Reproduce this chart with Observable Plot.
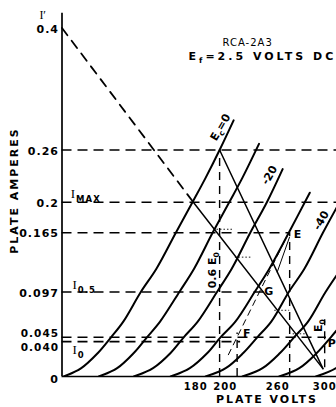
<!DOCTYPE html>
<html><head><meta charset="utf-8">
<script src="https://cdn.jsdelivr.net/npm/d3@7"></script>
<script src="https://cdn.jsdelivr.net/npm/@observablehq/plot@0.6"></script>
<style>
html,body{margin:0;padding:0;background:#fff;}
svg{display:block;}
.spaced text{letter-spacing:2px;}
.spaced1 text{letter-spacing:1px;}
.spacedT text{letter-spacing:3px;}
</style></head><body><div id="chart"></div>
<script>
// Plate characteristic curves [plate volts, plate amperes], grid bias in volts
const curveEc0  = [[2,0],[22,0.0096],[41,0.027],[56,0.045],[70,0.063],[90,0.097],[108,0.124],[130,0.165],[149,0.2],[164,0.228],[180,0.26],[196,0.294]];
const curveEc10 = [[42,0],[63,0.0096],[82,0.027],[97,0.045],[112,0.063],[134,0.097],[151,0.124],[172,0.165],[191,0.2],[206,0.228],[225,0.267]];
const curveEc20 = [[82,0],[104,0.0096],[124,0.027],[139,0.045],[155,0.063],[177,0.097],[194,0.124],[215,0.165],[234,0.2],[252,0.238]];
const curveEc30 = [[124,0],[146,0.0096],[166,0.027],[181,0.045],[198,0.063],[220,0.097],[237,0.124],[259,0.165],[283,0.211]];
const curveEc40 = [[164,0],[187,0.0096],[207,0.027],[223,0.045],[239,0.063],[259,0.097],[277,0.124],[298,0.165],[317,0.2]];
const curveEc50 = [[206,0],[229,0.0096],[249,0.027],[265,0.045],[281,0.063],[301,0.097],[319,0.124]];
const curveEc60 = [[248,0],[271,0.0096],[291,0.027],[307,0.045],[322,0.063]];
const curveEc70 = [[290,0],[313,0.0096],[333,0.027]];
const gridBias = [0,-10,-20,-30,-40,-50,-60,-70];
const curveSets = [curveEc0,curveEc10,curveEc20,curveEc30,curveEc40,curveEc50,curveEc60,curveEc70];

// load lines
const loadLineDashed = [[0,0.4],[150,0.2]];
const loadLineA = [[150,0.2],[298,0.009]];
const loadLineB = [[180,0.26],[298,0.009]];
const lineFE = [[190,0.025],[258,0.163]];
const lineFE2 = [[243,0.12],[257,0.16]];

// axis ticks
const yTickValues = [0.4,0.26,0.2,0.165,0.097];
const yTickLabels = ["0.4","0.26","0.2","0.165","0.097"];
const xTickValues = [180,200,260];
const xTickLabels = ["180","200","260"];
const xTickLast = [300];
const xTickLastLabel = ["300"];

// reference lines
const hLineLevels = [0.26,0.2,0.165,0.097,0.045,0.040];
const hLineEnds   = [313.5,313.5,261,232,302,204];
const vLineVolts  = [180,200,260,300];
const vLineTops   = [0.26,0.05,0.165,0.065];
const vLineBottoms= [0,0,0,0.01];
const dotLevels = [0.169,0.137,0.076,0.049];
const dotStarts = [177,198,243,264];
const dotEnds   = [196,217,260,280];

const curveRows = curveSets.flatMap((pts,k)=>pts.map(([v,i])=>({ec:gridBias[k],v,i})));
const hRows = hLineLevels.map((y,k)=>({y,x2:hLineEnds[k]}));
const vRows = vLineVolts.map((x,k)=>({x,y1:vLineBottoms[k],y2:vLineTops[k]}));
const dotRows = dotLevels.map((y,k)=>({y,x1:dotStarts[k],x2:dotEnds[k]}));
const seg = (pts)=>pts.map(([v,i])=>({v,i}));

const annotations = [
  {t:"E_c=0", v:181, i:0.286, r:-60},
  {t:"-20",  v:237, i:0.231, r:-60},
  {t:"-40",  v:296, i:0.179, r:-60},
  {t:"E",    v:269, i:0.163, r:0},
  {t:"G",    v:236, i:0.0976, r:0},
  {t:"F",    v:211, i:0.049, r:0},
  {t:"P",    v:308, i:0.038, r:0},
  {t:"0.6 E_0", v:172, i:0.122, r:-90},
  {t:"E_0",  v:293, i:0.0585, r:-90}
];
const currentLabels = [
  {t:"I_MAX", v:10, i:0.21},
  {t:"I_0.5", v:12, i:0.105},
  {t:"I_0",   v:12, i:0.031}
];

const font = "DejaVu Sans";
const chart = Plot.plot({
  width:336, height:407,
  marginLeft:61.5, marginRight:0, marginTop:12.7, marginBottom:31,
  x:{domain:[0,313.5], axis:null},
  y:{domain:[0,0.417], axis:null},
  style:{fontFamily:font, background:"#fff", color:"#000", overflow:"visible"},
  marks:[
    Plot.ruleY(hRows,{y:"y", x1:0, x2:"x2", stroke:"#000", strokeWidth:1.6, strokeDasharray:"10,6"}),
    Plot.ruleX(vRows,{x:"x", y1:"y1", y2:"y2", stroke:"#000", strokeWidth:1.4, strokeDasharray:"8,6"}),
    Plot.ruleY(dotRows,{y:"y", x1:"x1", x2:"x2", stroke:"#000", strokeWidth:0.9, strokeDasharray:"1.5,2"}),
    Plot.line(curveRows,{x:"v", y:"i", z:"ec", curve:"catmull-rom", stroke:"#000", strokeWidth:2, clip:true}),
    Plot.line(seg(loadLineDashed),{x:"v", y:"i", stroke:"#000", strokeWidth:1.8, strokeDasharray:"9,7"}),
    Plot.line(seg(loadLineA),{x:"v", y:"i", stroke:"#000", strokeWidth:1.5}),
    Plot.line(seg(loadLineB),{x:"v", y:"i", stroke:"#000", strokeWidth:1.5}),
    Plot.line(seg(lineFE),{x:"v", y:"i", stroke:"#000", strokeWidth:1, strokeDasharray:"6,5"}),
    Plot.line(seg(lineFE2),{x:"v", y:"i", stroke:"#000", strokeWidth:1, dx:2.5}),
    Plot.ruleX([0],{y1:0, y2:0.417, stroke:"#000", strokeWidth:1.7}),
    Plot.ruleY([0],{x1:0, x2:313.5, stroke:"#000", strokeWidth:1.7}),
    // y tick labels
    Plot.text(yTickValues,{x:0, y:d=>d, text:(d,k)=>yTickLabels[k], textAnchor:"end", dx:-3, dy:1, fontSize:11, fontWeight:"bold", className:"spaced1"}),
    Plot.text([0.045],{x:0, y:d=>d, text:["0.045"], textAnchor:"end", dx:-3, dy:-3.5, fontSize:10.5, fontWeight:"bold", className:"spaced1"}),
    Plot.text([0.040],{x:0, y:d=>d, text:["0.040"], textAnchor:"end", dx:-3, dy:6, fontSize:10.5, fontWeight:"bold", className:"spaced1"}),
    Plot.text([0],{x:0, y:0, text:["0"], textAnchor:"end", dx:-4, dy:3, fontSize:11, fontWeight:"bold"}),
    Plot.text(["I′"],{x:0, y:0.4, text:d=>d, textAnchor:"end", dx:-16, dy:-13, fontSize:12, fontFamily:"Liberation Serif"}),
    // x tick labels
    Plot.text(xTickValues,{x:d=>d, y:0, text:(d,k)=>xTickLabels[k], textAnchor:"end", dy:10, fontSize:10, fontWeight:"bold", className:"spaced1"}),
    Plot.text(xTickLast,{x:d=>d, y:0, text:(d,k)=>xTickLastLabel[k], dy:10, fontSize:10, fontWeight:"bold", className:"spaced1"}),
    // axis titles
    Plot.text(["PLATE AMPERES"],{x:0, y:0.2135, text:d=>d, dx:-48, rotate:-90, fontSize:11, fontWeight:"bold", className:"spaced"}),
    Plot.text(["PLATE VOLTS"],{x:234, y:0, text:d=>d, dy:23, fontSize:11, fontWeight:"bold", className:"spaced"}),
    // title
    Plot.text(["RCA-2A3"],{x:212, y:0.383, text:d=>d, fontSize:10, className:"spaced1"}),
    Plot.text(["E_f=2.5 VOLTS DC"],{x:144.5, y:0.367, text:d=>d, textAnchor:"start", fontSize:11, fontWeight:"bold", className:"spacedT"}),
    // annotations
    Plot.text(annotations,{x:"v", y:"i", text:"t", rotate:"r", fontSize:11, fontWeight:"bold"}),
    Plot.text(currentLabels,{x:"v", y:"i", text:"t", textAnchor:"start", fontSize:13, fontFamily:"Liberation Serif", className:"cur"})
  ]
});
document.getElementById("chart").appendChild(chart);

// nudge the crowded 180 label left (as printed)
d3.select(chart).selectAll("text").filter(function(){return this.textContent==="180";})
  .attr("transform", function(){ return (this.getAttribute("transform")||"") + " translate(-12,0)"; });

// render "_x" as subscripts
d3.select(chart).selectAll("text").each(function(){
  const t = this.textContent;
  const k = t.indexOf("_");
  if (k < 0) return;
  const m = t.slice(k+1).match(/^([A-Z]+|[0-9.]+|[a-z])(.*)$/);
  const sub = m[1], rest = m[2];
  const isCur = this.closest(".cur") !== null;
  const sel = d3.select(this);
  sel.text(null);
  sel.append("tspan").text(t.slice(0,k));
  const s = sel.append("tspan").attr("dy", isCur ? "4" : "3").text(sub);
  if (isCur) s.attr("font-family","DejaVu Sans").attr("font-weight","bold").attr("font-size","8.5px").attr("letter-spacing","1px").attr("dx","1");
  else s.attr("font-size","0.7em");
  if (rest) sel.append("tspan").attr("dy", isCur ? "-4" : "-3").text(rest);
});
</script></body></html>
